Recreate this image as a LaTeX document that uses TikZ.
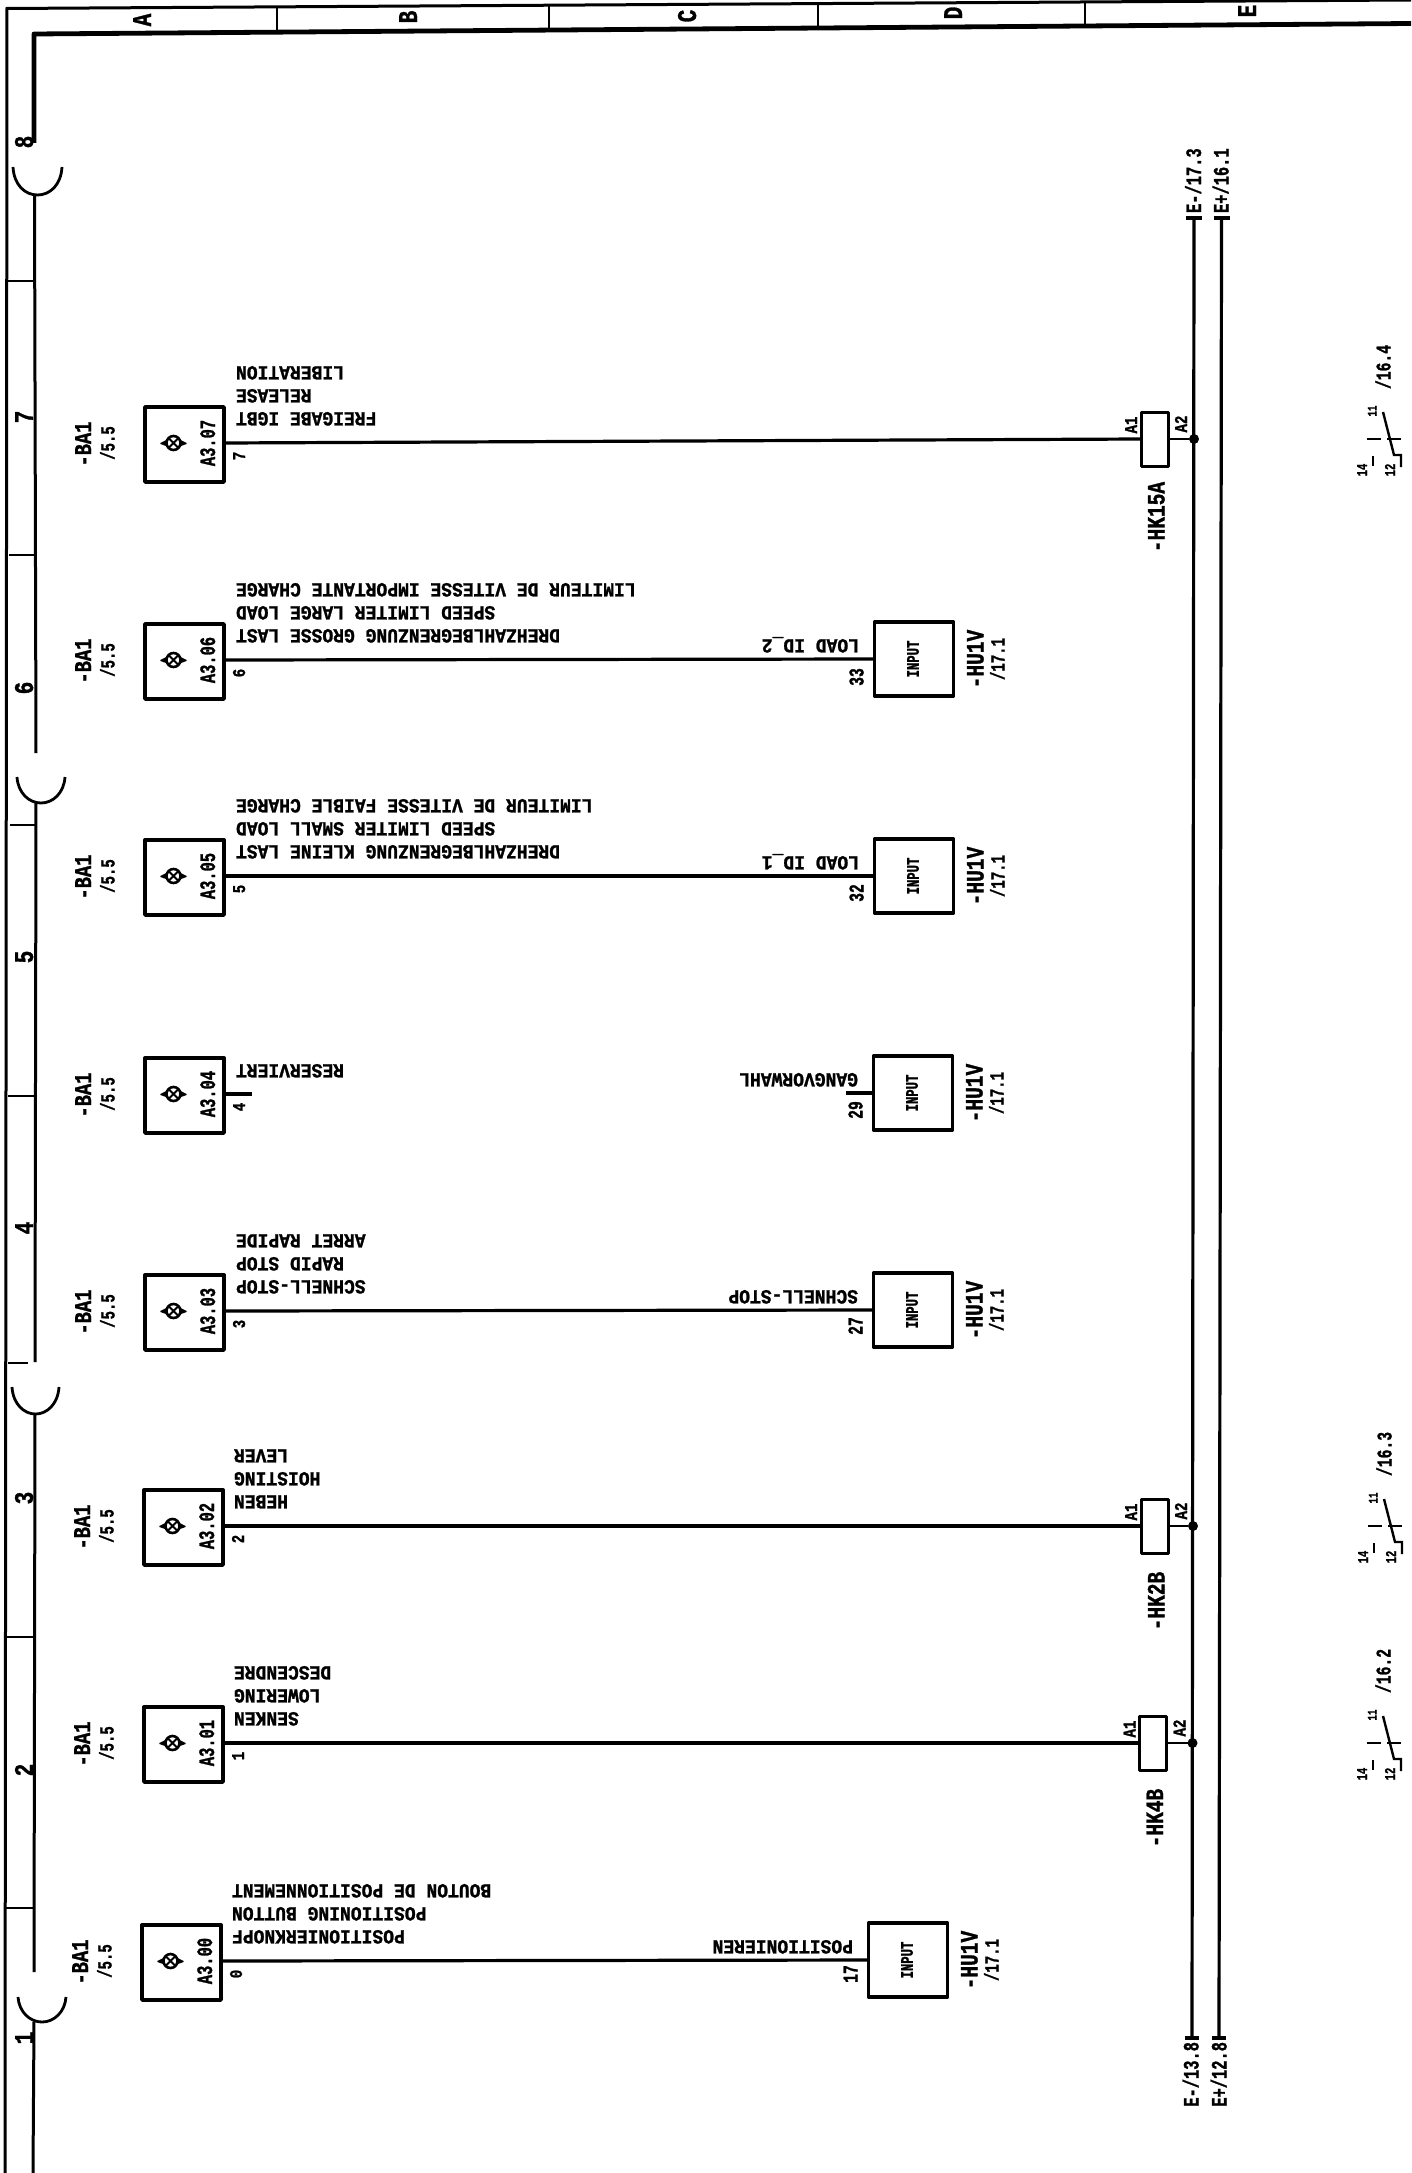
\documentclass[tikz,border=0pt]{standalone}
\usepackage{fontspec}
\newfontfamily\fw[FakeStretch=0.9,FakeBold=1.2,BoldFeatures={FakeBold=1.2}]{Liberation Mono}
\newfontfamily\fm[FakeStretch=0.78,FakeBold=1.2,BoldFeatures={FakeBold=1.2}]{Liberation Mono}
\newfontfamily\fn[FakeStretch=0.7,FakeBold=1.2,BoldFeatures={FakeBold=1.2}]{Liberation Mono}
\newcommand{\fnt}[2]{#1\bfseries\fontsize{#2}{#2}\selectfont}
\tikzset{
  txt/.style={inner sep=0pt,outer sep=0pt,text depth=0pt},
  hlab/.style={txt,rotate=180,anchor=east,text height=13.5pt,font=\fnt{\fw}{20pt}},
  ilab/.style={txt,rotate=180,anchor=west,text height=13.5pt,font=\fnt{\fw}{20pt}},
  vbig/.style={txt,rotate=90,text height=16pt,font=\fnt{\fm}{24pt}},
  vhk/.style={txt,rotate=90,text height=17pt,font=\fnt{\fm}{25pt}},
  vsm/.style={txt,rotate=90,text height=13pt,font=\fnt{\fn}{20pt}},
  vaa/.style={txt,rotate=90,text height=14pt,font=\fnt{\fn}{22pt}},
  vbus/.style={txt,rotate=90,text height=15pt,font=\fnt{\fn}{22pt}},
  vref/.style={txt,rotate=90,text height=13pt,font=\fnt{\fn}{21pt}},
  vpin/.style={txt,rotate=90,text height=12pt,font=\fnt{\fm}{18pt}},
  vpinb/.style={txt,rotate=90,text height=13pt,font=\fnt{\fn}{21pt}},
  vinp/.style={txt,rotate=90,text height=11.5pt,font=\fnt{\fn}{17.5pt}},
  vtiny/.style={txt,rotate=90,text height=10pt,font=\fnt{\fn}{15pt}},
  vmini/.style={txt,rotate=90,text height=9pt,font=\fnt{\fn}{13pt}},
  vzone/.style={txt,rotate=90,text height=18pt,font=\fnt{\fm}{27pt}},
  vcol/.style={txt,rotate=90,text height=18pt,font=\fnt{\fm}{27pt}},
  wire/.style={line width=3.2pt},
  thin wire/.style={line width=2.8pt},
  frame/.style={line width=3pt},
  frame thick/.style={line width=4.8pt},
  tickline/.style={line width=2.6pt},
  arcline/.style={line width=2.8pt},
  bx/.style={draw,line width=3.4pt,line join=round,rectangle,inner sep=0pt,outer sep=0pt},
  lampbox/.style={bx,minimum width=79pt,minimum height=75pt},
  inbox/.style={bx,minimum width=79pt,minimum height=74pt},
  relaybox/.style={bx,line width=3pt,minimum width=27pt,minimum height=54pt},
  lampsym/.style={draw,circle,line width=2.6pt,minimum size=14pt,inner sep=0pt,outer sep=0pt},
  dotn/.style={fill,circle,minimum size=10pt,inner sep=0pt,outer sep=0pt},
  contact/.style={line width=2.4pt},
}
% name, box left x, wire y, tag, pin
\newcommand{\lamp}[5]{%
  \node[vbig] (ba#1) at (#2-61,#3+1) {-BA1};
  \node[vsm] (bb#1) at (#2-36,#3) {/5.5};
  \node[lampbox] (b#1) at (#2+40.5,#3+1.5) {};
  \node[lampsym] (s#1) at (#2+29.5,#3) {};
  \draw[line width=2pt] (s#1.45)--(s#1.225) (s#1.135)--(s#1.315);
  \fill (s#1.150)--++(-7,3.5)--++(0,1)--(s#1.210)--cycle;
  \fill (s#1.30)--++(7,3.5)--++(0,1)--(s#1.330)--cycle;
  \node[vaa] (t#1) at (#2+64,#3) {#4};
  \node[vpin] (n#1) at (#2+95,#3+13) {#5};
  \coordinate (p#1) at ([yshift=1.5pt]b#1.east);
}
% name, box left x, wire y, pin, pin dy, label
\newcommand{\inp}[6]{%
  \node[inbox] (i#1) at (#2+41,#3) {};
  \node[vinp] (it#1) at (#2+40,#3) {INPUT};
  \node[vhk] (iu#1) at (#2+102,#3) {-HU1V};
  \node[vsm] (iv#1) at (#2+125,#3) {/17.1};
  \node[vpinb] (ip#1) at (#2-16,#3+#5) {#4};
  \node[ilab] (il#1) at (#2-14,#3-13) {#6};
}
% name, wire y, x of box left, text offset
\newcommand{\relay}[4]{%
  \node[relaybox] (r#1) at (#3+14.5,#2) {};
  \node[vpin] (ra#1) at (#3-9,#2-14) {A1};
  \node[vpin] (rb#1) at (#3+41,#2-15) {A2};
  \node[vhk] (rn#1) at (#3+16,#2+#4) {-#1};
}
% name, wire y, x offset, ref
\newcommand{\cont}[4]{%
  \node[vmini] (ca#1) at (1373+#3,#2-28) {11};
  \node[vtiny] (cb#1) at (1363+#3,#2+31) {14};
  \node[vtiny] (cc#1) at (1391+#3,#2+31) {12};
  \node[vref] (cd#1) at (1385+#3,#2-50) [anchor=west] {#4};
  \coordinate (c1#1) at (1384+#3,#2-27);
  \coordinate (c2#1) at (1395+#3,#2+16);
  \draw[contact] (c1#1)--(c2#1)--++(7,0)--++(0,12);
  \draw[contact] (1368+#3,#2)--++(14,0) (1388+#3,#2)--++(14,0);
  \draw[contact] (1374+#3,#2+17)--++(0,10);
}
% name, x, y, three label lines
\newcommand{\tri}[6]{%
  \node[hlab] (l#1a) at (#2,#3-24) {#4};
  \node[hlab] (l#1b) at (#2,#3-47) {#5};
  \node[hlab] (l#1c) at (#2,#3-70) {#6};
}
\begin{document}
\begin{tikzpicture}[x=1pt,y=-1pt]
\useasboundingbox (0,0) rectangle (1411,2173);
% frame
\draw[frame] (5,2173)--(7,8.5)--(1411,0);
\draw[frame thick,line join=round] (34,143)--(34,34)--(1411,23.5);
\draw[frame] (34.5,196)--(36,753);
\draw[frame] (36,803)--(35,1362);
\draw[frame] (35,1414)--(34,1972);
\draw[frame] (34,2022)--(33,2173);
\foreach \x/\a/\b in {277/7/32,549/5/30,818/3/28.5,1085/1/27}{\draw[tickline] (\x,\a)--(\x,\b);}
\foreach \y/\a/\b in {281/8/34,555/9/35,825/10/36,1096/8/36,1363/8/28,1637/7/35,1908/6/34}{\draw[tickline] (\a,\y)--(\b,\y);}
% holes
\foreach \l/\r/\t/\b in {13/62/167/195,17/65/777/803,12/59/1387/1414,18/66/1997/2022}{
  \draw[arcline] (\l,\t) .. controls (\l+1,\b-10) and (\l+12,\b) .. ({(\l+\r)/2},\b)
     .. controls (\r-12,\b) and (\r-1,\b-10) .. (\r,\t);
}
% column letters
\node[vcol] (colA) at (142,20) {A};
\node[vcol] (colB) at (408,17) {B};
\node[vcol] (colC) at (687,16) {C};
\node[vcol] (colD) at (953,13) {D};
\node[vcol] (colE) at (1247,11) {E};
% zone numbers
\foreach \n/\y in {8/142,7/417,6/688,5/957,4/1228,3/1498,2/1770,1/2038}{\node[vzone] (z\n) at (24,\y) {\n};}
% bus
\coordinate (Emt) at (1194,218); \coordinate (Emb) at (1192,2038);
\coordinate (Ept) at (1221.5,218); \coordinate (Epb) at (1219,2038);
\draw[wire] (Emt)--(Emb);
\draw[wire] (Ept)--(Epb);
\draw[wire] (Emt)++(-8,0)--++(16,0);
\draw[wire] (Ept)++(-8,0)--++(16,0);
\draw[wire] (Emb)++(-7,0)--++(14,0);
\draw[wire] (Epb)++(-7,0)--++(14,0);
\node[vbus,anchor=west] (l1) at (1193.5,213) {E-/17.3};
\node[vbus,anchor=west] (l2) at (1221,213) {E+/16.1};
\node[vbus,anchor=east] (l3) at (1191,2042) {E-/13.8};
\node[vbus,anchor=east] (l4) at (1219,2042) {E+/12.8};
% row 7
\lamp{7}{144}{443}{A3.07}{7}
\tri{7}{236}{443}{FREIGABE IGBT}{RELEASE}{LIBERATION}
\relay{HK15A}{439}{1140}{78}
\node[dotn] (d7) at (1194,439) {};
\draw[wire] (p7)--(rHK15A.west);
\draw[thin wire] (rHK15A.east)--(d7);
\cont{a}{439}{-1}{/16.4}
% row 6
\lamp{6}{144}{660}{A3.06}{6}
\tri{6}{236}{660}{DREHZAHLBEGRENZUNG GROSSE LAST}{SPEED LIMITER LARGE LOAD}{LIMITEUR DE VITESSE IMPORTANTE CHARGE}
\inp{6}{873}{659}{33}{18}{LOAD ID\_2}
\draw[wire] (p6)--(i6.west);
% row 5
\lamp{5}{144}{876}{A3.05}{5}
\tri{5}{236}{876}{DREHZAHLBEGRENZUNG KLEINE LAST}{SPEED LIMITER SMALL LOAD}{LIMITEUR DE VITESSE FAIBLE CHARGE}
\inp{5}{873}{876}{32}{17}{LOAD ID\_1}
\draw[wire] (p5)--(i5.west);
% row 4
\lamp{4}{144}{1094}{A3.04}{4}
\node[hlab] (l4a) at (236,1071) {RESERVIERT};
\inp{4}{872}{1093}{29}{17}{GANGVORWAHL}
\coordinate (st4a) at (252,1094);
\coordinate (st4b) at (846,1093);
\draw[wire] (p4)--(st4a);
\draw[wire] (st4b)--(i4.west);
% row 3
\lamp{3}{144}{1311}{A3.03}{3}
\tri{3}{236}{1311}{SCHNELL-STOP}{RAPID STOP}{ARRET RAPIDE}
\inp{3}{872}{1310}{27}{16}{SCHNELL-STOP}
\draw[wire] (p3)--(i3.west);
% row 2
\lamp{2}{143}{1526}{A3.02}{2}
\tri{2}{234}{1526}{HEBEN}{HOISTING}{LEVER}
\relay{HK2B}{1526}{1140}{75}
\node[dotn] (d2) at (1193,1526) {};
\draw[wire] (p2)--(rHK2B.west);
\draw[thin wire] (rHK2B.east)--(d2);
\cont{b}{1526}{0}{/16.3}
% row 1
\lamp{1}{143}{1743}{A3.01}{1}
\tri{1}{234}{1743}{SENKEN}{LOWERING}{DESCENDRE}
\relay{HK4B}{1743}{1138.5}{75}
\node[dotn] (d1) at (1192.5,1743) {};
\draw[wire] (p1)--(rHK4B.west);
\draw[thin wire] (rHK4B.east)--(d1);
\cont{c}{1743}{-1}{/16.2}
% row 0
\lamp{0}{141}{1961}{A3.00}{0}
\tri{0}{232}{1961}{POSITIONIERKNOPF}{POSITIONING BUTTON}{BOUTON DE POSITIONNEMENT}
\inp{0}{867}{1960}{17}{14}{POSITIONIEREN}
\draw[wire] (p0)--(i0.west);
\end{tikzpicture}
\end{document}
